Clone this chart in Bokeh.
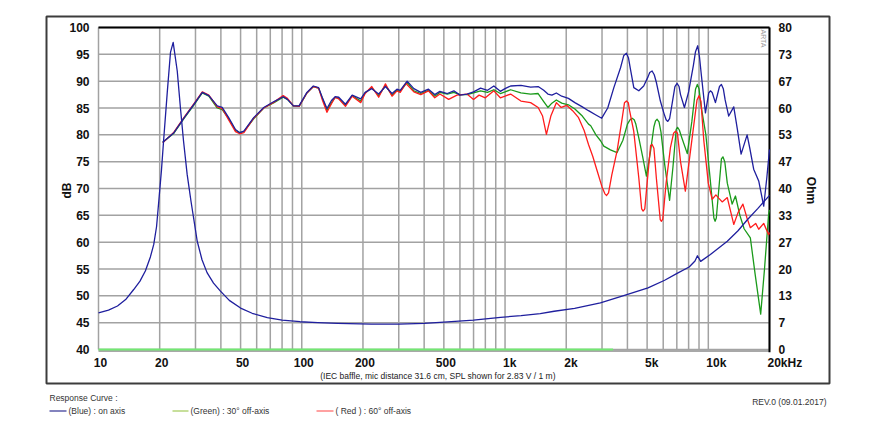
import numpy as np
from bokeh.plotting import figure
from bokeh.models import Range1d, Label, PolyAnnotation, Arrow
from bokeh.embed import file_html
from bokeh.resources import INLINE

# ---------------- data ----------------
on_freq = [20.7, 23.5, 26.3, 29.5, 32.4, 34.9, 38.4, 40.6, 43.7, 47.2, 49.5, 51.9, 58, 65, 73, 81, 85, 91, 97,
           106, 114, 121, 126, 133, 140, 146, 152, 164, 177, 195, 205, 221, 239, 258, 278, 294, 305, 330, 356,
           385, 420, 451, 478, 520, 560, 600, 650, 700, 758, 820, 881, 948, 1000, 1065, 1197, 1336, 1455, 1550,
           1625, 1700, 1788, 1900, 2050, 2206, 2400, 2574, 2800,
           2990, 3200, 3430, 3700, 3840, 3955, 4050, 4150, 4300, 4550, 4810, 5050, 5150, 5290, 5420, 5550, 5810,
           6050, 6200, 6320, 6450, 6650, 6850, 7020, 7180, 7300, 7630, 8000, 8450, 8650, 8870, 9050, 9250, 9680,
           10050, 10240, 10450, 10840, 11350, 11600, 11850, 12100, 12600, 13340, 13900, 14500, 15520, 16000,
           16720, 17700, 18730, 19400, 20000]
on_db = [78.6, 80.4, 83.1, 85.7, 87.9, 87.3, 85.4, 85.1, 83.2, 81.0, 80.4, 80.7, 83.2, 85.1, 86.2, 87.1, 86.6, 85.4, 85.4,
         87.9, 89.1, 88.8, 87.0, 84.9, 86.4, 87.1, 87.0, 85.7, 87.4, 86.7, 87.9, 88.6, 87.6, 89.0, 87.7, 88.5, 88.3, 90.0, 88.6,
         87.9, 88.5, 87.5, 88.1, 87.7, 88.2, 87.4, 87.6, 88.0, 88.7, 88.3, 89.1, 88.1, 88.6, 89.1, 89.2, 88.9, 89.0, 88.3,
         87.6, 87.4, 87.8, 87.2, 86.8, 86.0, 85.2, 84.5, 83.7,
         83.1, 85.0, 88.8, 92.5, 94.8, 95.2, 94.3, 92.0, 88.8, 88.2, 89.1, 90.8, 91.6, 91.9, 91.2, 89.8, 86.3,
         84.0, 82.8, 82.5, 83.0, 86.0, 89.0, 89.6, 89.0, 87.5, 85.1, 88.0, 93.0, 95.5, 96.6, 94.5, 91.0, 84.1,
         87.8, 88.2, 87.9, 86.0, 89.0, 89.4, 88.6, 86.5, 83.5, 85.2, 81.0, 76.4, 80.0, 77.5,
         73.6, 71.4, 66.7, 72.0, 77.3]

off30_freq = [20.7, 23.5, 26.3, 29.5, 32.4, 34.9, 38.4, 40.6, 43.7, 47.2, 49.5, 51.9, 58, 65, 73, 81, 85, 91, 97,
              106, 114, 121, 126, 133, 140, 146, 152, 164, 177, 195, 205, 221, 239, 258, 278, 294, 305, 330, 356,
              385, 420, 451, 478, 520, 560, 600, 650, 700, 758, 820, 881, 948, 1000, 1065, 1197, 1336, 1455, 1550,
              1625, 1700, 1788, 1900, 2050, 2206, 2400, 2574, 2640, 2800, 2950, 3060, 3300,
              3558, 3800, 4000, 4120, 4220, 4320, 4400, 4548, 4750, 4960, 5200, 5400, 5500, 5600, 5720, 5850, 6100,
              6450, 6700, 6950, 7060, 7200, 7400, 7880, 8300, 8650, 8830, 9000, 9200, 9720, 10200, 10650, 10800,
              10950, 11300, 11600, 11800, 12050, 12400, 13100, 13600, 14300, 15000, 16100, 17000, 18100, 18900,
              19800, 20000]
off30_db = [78.6, 80.3, 83.0, 85.6, 87.8, 87.2, 85.0, 84.7, 83.0, 80.8, 80.4, 80.6, 83.0, 85.0, 86.0, 87.0, 86.6, 85.4, 85.3,
            87.8, 89.0, 88.7, 86.9, 84.6, 86.0, 87.0, 86.8, 85.5, 87.3, 86.3, 87.8, 88.8, 87.3, 89.2, 87.4, 88.3, 88.1, 89.8, 88.2,
            87.7, 88.3, 87.2, 87.9, 87.6, 87.9, 87.5, 87.5, 87.8, 88.2, 87.9, 88.4, 87.7, 88.0, 88.4, 87.8, 87.6, 87.7, 86.2,
            85.1, 85.9, 86.5, 85.9, 85.6, 84.8, 83.5, 82.0, 81.7, 80.0, 78.9, 77.9, 77.2,
            76.7, 79.0, 82.0, 82.8, 83.1, 82.8, 82.0, 79.5, 76.0, 72.3, 77.0, 81.5, 82.6, 82.9, 82.4, 80.5, 74.5,
            67.8, 74.0, 81.0, 81.4, 80.9, 79.5, 76.5, 82.5, 88.5, 89.4, 88.6, 85.5, 80.1, 72.0, 64.5, 63.9,
            64.5, 70.5, 75.5, 75.9, 75.0, 71.0, 67.1, 68.6, 65.0, 62.5, 60.8, 54.0, 46.6, 55.0,
            65.2, 66.0]

off60_freq = [20.7, 23.5, 26.3, 29.5, 32.4, 34.9, 38.4, 40.6, 43.7, 47.2, 49.5, 51.9, 58, 65, 73, 81, 85, 91, 97,
              106, 114, 121, 126, 133, 140, 146, 152, 164, 177, 195, 205, 221, 239, 258, 278, 294, 305, 325, 356,
              385, 420, 451, 478, 528, 580, 650, 700, 745, 800, 881, 948, 1000, 1065, 1197, 1336, 1455, 1530, 1598,
              1680, 1788, 1890, 2010, 2150, 2300, 2450, 2574, 2700, 2838,
              3000, 3100, 3160, 3230, 3350, 3558, 3750, 3870, 3955, 4040, 4100, 4296, 4550, 4700, 4780, 4870, 5000,
              5200, 5291, 5400, 5550, 5800, 5880, 5970, 6200, 6510, 6750, 6900, 7050, 7300, 7710, 8300, 8800, 9000,
              9200, 9500, 10000, 10450, 10900, 11250, 11700, 12400, 13340, 14000, 14800, 15500, 16100, 17100,
              17700, 18730, 19800, 20000]
off60_db = [78.5, 80.5, 83.2, 85.8, 88.0, 87.4, 85.2, 84.9, 82.8, 80.6, 80.2, 80.4, 83.1, 85.0, 86.1, 87.3, 86.8, 85.4, 85.3,
            87.8, 89.0, 88.7, 86.6, 84.2, 85.8, 87.0, 86.7, 85.3, 87.2, 86.0, 87.7, 89.0, 87.0, 89.5, 87.2, 88.2, 87.9, 89.6, 88.0,
            87.5, 88.2, 86.9, 87.6, 86.6, 87.4, 87.6, 86.6, 87.4, 86.9, 88.2, 86.9, 87.2, 87.6, 86.3, 86.0, 85.1, 83.5, 80.1,
            83.5, 86.0, 85.1, 85.5, 84.5, 83.2, 80.8, 78.2, 76.0, 73.3,
            70.3, 69.0, 68.7, 69.2, 72.5, 77.0, 82.5, 86.0, 86.3, 86.0, 84.5, 80.7, 72.0, 66.2, 65.8, 66.2, 71.0,
            78.0, 78.2, 77.5, 72.0, 64.2, 63.9, 64.3, 71.0, 77.6, 80.3, 80.7, 80.3, 75.0, 69.5, 79.0, 86.5, 87.3,
            86.2, 79.0, 71.0, 68.0, 68.8, 68.2, 67.5, 68.3, 63.3, 65.5, 67.1, 64.5, 62.7, 63.5,
            62.4, 63.5, 61.4, 61.8]

imp_freq = [10, 11.2, 12.4, 13.6, 14.9, 16.0, 17.0, 18.0, 18.7, 19.3, 19.8, 20.4, 20.9, 21.8, 22.6, 23.3, 24.4, 25.3,
            26.2, 27.3, 28.5, 30.6, 32.3, 34.2, 36.8, 39.8, 44, 50, 57, 67.7, 80, 98, 120, 150, 220, 300, 400, 500,
            700, 950, 1200, 1490, 1745, 2200, 2945, 4010, 5050, 6100, 7020, 8050, 8600, 8840, 9170, 10240, 12400,
            14000, 15600, 17500, 20000]
imp_ohm = [9.1, 9.8, 10.8, 12.4, 14.9, 17.0, 19.5, 23.0, 26.1, 30.5, 36.9, 44.5, 51.8, 64.0, 73.8, 76.3, 69.2, 60.0,
           51.8, 43.5, 36.9, 26.9, 22.3, 19.1, 16.5, 14.5, 12.2, 10.3, 9.0, 7.9, 7.3, 6.9, 6.7, 6.5, 6.3, 6.3, 6.5, 6.8,
           7.3, 8.0, 8.4, 8.9, 9.5, 10.2, 11.6, 13.7, 15.3, 17.2, 18.9, 20.5, 22.0, 23.3, 21.9, 23.6, 26.9,
           29.5, 32.3, 35.0, 38.3]

coh_freq = [10, 3400]
coh_db = [40, 40]

x_tick_freqs = [10, 20, 50, 100, 200, 500, 1000, 2000, 5000, 10000, 20000]
x_tick_labels = ["10", "20", "50", "100", "200", "500", "1k", "2k", "5k", "10k", "20kHz"]
db_ticks = [40, 45, 50, 55, 60, 65, 70, 75, 80, 85, 90, 95, 100]
db_tick_labels = ["40", "45", "50", "55", "60", "65", "70", "75", "80", "85", "90", "95", "100"]
ohm_tick_labels = ["0", "7", "13", "20", "27", "33", "40", "47", "53", "60", "67", "73", "80"]
grid_freqs = [m * 10 ** e for e in range(1, 4) for m in range(1, 10)] + [10000, 20000]

# ---------------- layout (canvas pixels) ----------------
W, H = 875, 430
PX_PER_DEC = 671 / np.log10(2000)
PX_PER_DB = 322 / 60.0
X10 = 98.0      # canvas x of 10 Hz
Y100 = 27.0     # canvas y of 100 dB


def px_of_f(f):
    return X10 + PX_PER_DEC * np.log10(f / 10.0)


def py_of_db(v):
    return Y100 + (100 - v) * PX_PER_DB


# the frame covers the whole canvas; the chart area lives inside it
F_LO = 10 * 10 ** ((0 - X10) / PX_PER_DEC)
F_HI = 10 * 10 ** ((W - X10) / PX_PER_DEC)
DB_HI = 100 + Y100 / PX_PER_DB
DB_LO = 100 - (H - Y100) / PX_PER_DB
OHM_LO = (DB_LO - 40) * 80 / 60
OHM_HI = (DB_HI - 40) * 80 / 60

FONT = "Liberation Sans"
BLUE = "#1f1f9e"
GREEN = "#1a9a1a"
RED = "#ff1c1c"
GRID = "#a2a2a2"

p = figure(width=W, height=H, x_axis_type="log",
           x_range=Range1d(F_LO, F_HI), y_range=Range1d(DB_LO, DB_HI),
           x_axis_location=None, y_axis_location=None, title=None,
           toolbar_location=None, output_backend="svg", min_border=0)
p.extra_y_ranges = {"ohm": Range1d(OHM_LO, OHM_HI)}
p.outline_line_color = None
p.background_fill_color = "white"
p.border_fill_color = "white"
p.grid.visible = False

f_min, f_max = x_tick_freqs[0], x_tick_freqs[-1]
db_min, db_max = db_ticks[0], db_ticks[-1]

# grid lines
p.segment(x0=grid_freqs, x1=grid_freqs, y0=[db_min] * len(grid_freqs), y1=[db_max] * len(grid_freqs),
          line_color=GRID, line_width=1.5)
p.segment(x0=[f_min] * len(db_ticks), x1=[f_max] * len(db_ticks), y0=db_ticks, y1=db_ticks,
          line_color=GRID, line_width=1.5)
# chart area borders
p.line([f_min, f_max], [db_min - 0.25, db_min - 0.25], line_color="#a8a8a8", line_width=2.2)
p.line([f_min, f_max], [db_max, db_max], line_color="black", line_width=2)
p.line([f_max, f_max], [db_min - 0.5, db_max], line_color="black", line_width=2)

p.line(coh_freq, coh_db, line_color="#72e872", line_width=1.8)
p.line(off30_freq, off30_db, line_color=GREEN, line_width=1.3, line_join="round")
p.line(off60_freq, off60_db, line_color=RED, line_width=1.3, line_join="round")
p.line(on_freq, on_db, line_color=BLUE, line_width=1.3, line_join="round")
p.line(imp_freq, imp_ohm, line_color=BLUE, line_width=1.3, line_join="round", y_range_name="ohm")


def clabel(x, y, text, **kw):
    opts = dict(text_font=FONT, text_font_size="12px", text_color="#111111",
                text_align="left", text_baseline="middle")
    opts.update(kw)
    p.add_layout(Label(x=x, y=y, x_units="canvas", y_units="canvas", text=text, **opts))


# ---------------- tick labels ----------------
for v, t in zip(db_ticks, db_tick_labels):
    clabel(X10 - 9, py_of_db(v), t, text_align="right", text_font_style="bold")
for v, t in zip(db_ticks, ohm_tick_labels):
    clabel(px_of_f(f_max) + 9, py_of_db(v), t, text_font_style="bold")
for f, t in zip(x_tick_freqs, x_tick_labels):
    is_k = "k" in t
    clabel(px_of_f(f) + (-2 if is_k else 2), 362, t,
           text_align=("left" if is_k else "center"), text_font_style="bold")

clabel(66, 190, "dB", angle=np.pi / 2, text_align="center", text_font_style="bold")
clabel(810, 190, "Ohm", angle=-np.pi / 2, text_align="center", text_font_style="bold")
clabel(763, 38, "ARTA", angle=-np.pi / 2, text_align="center", text_font_size="7px", text_color="#999999")

clabel(437.5, 375, "(IEC baffle, mic distance 31.6 cm, SPL shown for 2.83 V / 1 m)",
       text_align="center", text_font_size="8.5px", text_color="#222222")

# outer frame
p.add_layout(PolyAnnotation(xs=[46, 829, 829, 46], ys=[16, 16, 383, 383],
                            xs_units="canvas", ys_units="canvas",
                            fill_alpha=0, line_color="#3c3c3c", line_alpha=1.0, line_width=2))

# legend
clabel(49, 397, "Response Curve :", text_font_size="8.5px", text_color="#333333")
legend_items = [(49, 66, "#5a5aa8", "(Blue)  : on axis"),
                (172, 188, "#b4d47a", "(Green) : 30° off-axis"),
                (316, 333, "#ff6f6f", "( Red ) : 60° off-axis")]
for x0, x1, c, t in legend_items:
    p.add_layout(Arrow(x_start=x0, y_start=410.5, x_end=x1, y_end=410.5, end=None,
                       start_units="canvas", end_units="canvas",
                       line_color=c, line_width=1.3))
    clabel(x1 + 2, 410.5, t, text_font_size="8.5px", text_color="#333333")
clabel(826, 401, "REV.0 (09.01.2017)", text_align="right", text_font_size="8.5px", text_color="#333333")

open("out.html", "w").write(file_html(p, INLINE))
